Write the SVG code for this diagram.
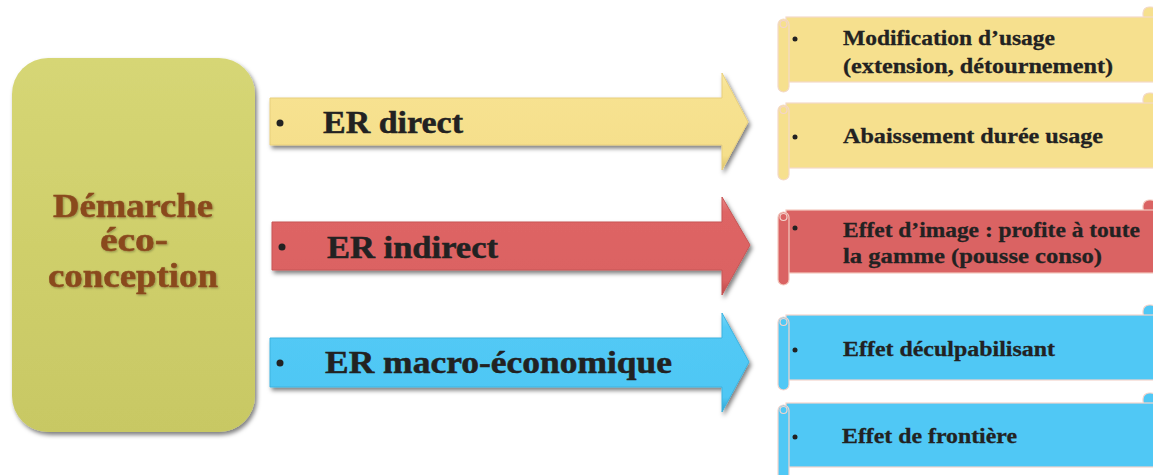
<svg xmlns="http://www.w3.org/2000/svg" width="1153" height="475" viewBox="0 0 1153 475">
<defs>
<filter id="sh" x="-10%" y="-10%" width="130%" height="130%">
<feDropShadow dx="2" dy="3" stdDeviation="2" flood-color="#000" flood-opacity="0.5"/>
</filter>
<filter id="tsh" x="-5%" y="-20%" width="110%" height="140%">
<feDropShadow dx="1" dy="1" stdDeviation="0.8" flood-color="#000" flood-opacity="0.3"/>
</filter>
<linearGradient id="gBox" x1="0" y1="0" x2="0" y2="1">
<stop offset="0" stop-color="#d6d675"/>
<stop offset="0.5" stop-color="#cfcf6b"/>
<stop offset="1" stop-color="#c8c864"/>
</linearGradient>
<linearGradient id="gY" x1="0" y1="0" x2="0" y2="1">
<stop offset="0" stop-color="#fbeaa6"/>
<stop offset="0.15" stop-color="#f7e291"/>
<stop offset="0.85" stop-color="#f5df8b"/>
<stop offset="1" stop-color="#d9bf68"/>
</linearGradient>
<linearGradient id="gR" x1="0" y1="0" x2="0" y2="1">
<stop offset="0" stop-color="#e98585"/>
<stop offset="0.15" stop-color="#de6565"/>
<stop offset="0.85" stop-color="#db6262"/>
<stop offset="1" stop-color="#b84747"/>
</linearGradient>
<linearGradient id="gB" x1="0" y1="0" x2="0" y2="1">
<stop offset="0" stop-color="#7ad7f8"/>
<stop offset="0.15" stop-color="#52c9f5"/>
<stop offset="0.85" stop-color="#4fc7f4"/>
<stop offset="1" stop-color="#2fa3cf"/>
</linearGradient>
<style>
.box{fill:url(#gBox);filter:url(#sh)}
.arr{stroke-width:1;filter:url(#sh)}
.ay{fill:url(#gY);stroke:#e8cf7c}
.ar{fill:url(#gR);stroke:#c75555}
.ab{fill:url(#gB);stroke:#3db3e0}
.main{font-family:"Liberation Serif","DejaVu Serif",serif;font-weight:bold;font-size:33px;fill:#8a4a1f;stroke:#8a4a1f;stroke-width:0.5;text-anchor:middle}
.at{font-family:"Liberation Serif","DejaVu Serif",serif;font-weight:bold;font-size:31px;fill:#222;stroke:#222;stroke-width:0.5}
.st{font-family:"Liberation Serif","DejaVu Serif",serif;font-weight:bold;font-size:22px;fill:#222;stroke:#222;stroke-width:0.3}
.dot{fill:#222}
.sy{fill:#f6e08e;stroke:#f3d9c8;stroke-width:1.2}
.sr{fill:#da6363;stroke:#f3c9bf;stroke-width:1.2}
.sb{fill:#50c8f5;stroke:#f3d4cc;stroke-width:1.2}
.curl{fill:none;stroke:#f3d4cc;stroke-width:1.2}
</style>
</defs>

<g id="demarche">
<rect class="box" x="12" y="58" width="243" height="374" rx="36" ry="36"/>
<g filter="url(#tsh)">
<text class="main" x="133" y="217" textLength="160" lengthAdjust="spacingAndGlyphs">Démarche</text>
<text class="main" x="134" y="251" textLength="68" lengthAdjust="spacingAndGlyphs">éco-</text>
<text class="main" x="133" y="287" textLength="170" lengthAdjust="spacingAndGlyphs">conception</text>
</g>
</g>

<g id="connectors">
<g id="er-direct">
<polygon class="arr ay" points="270,98 722,98 722,73 748,122 722,170 722,145 270,145"/>
<circle class="dot" cx="280" cy="123" r="3.5"/>
<text class="at" x="323" y="133" textLength="140" lengthAdjust="spacingAndGlyphs">ER direct</text>
</g>
<g id="er-indirect">
<polygon class="arr ar" points="272,222 722,222 722,197 750,245 722,295 722,270 272,270"/>
<circle class="dot" cx="282" cy="247" r="3.5"/>
<text class="at" x="327" y="258" textLength="171" lengthAdjust="spacingAndGlyphs">ER indirect</text>
</g>
<g id="er-macro">
<polygon class="arr ab" points="270,338 722,338 722,313 749,362 722,412 722,387 270,387"/>
<circle class="dot" cx="280" cy="363" r="3.5"/>
<text class="at" x="325" y="373" textLength="347" lengthAdjust="spacingAndGlyphs">ER macro-économique</text>
</g>
</g>

<g id="scroll-modification">
<rect class="sy" x="1143" y="7" width="14" height="14" rx="6"/>
<rect class="sy" x="786" y="17" width="380" height="65"/>
<rect class="sy" x="778" y="19" width="11" height="73" rx="5.5"/>
<circle class="curl" cx="783.5" cy="24" r="3.5"/>
<circle class="dot" cx="795" cy="39" r="2.5"/>
<text class="st" x="843" y="45" textLength="212" lengthAdjust="spacingAndGlyphs">Modification d’usage</text>
<text class="st" x="843" y="73" textLength="270" lengthAdjust="spacingAndGlyphs">(extension, détournement)</text>
</g>

<g id="scroll-abaissement">
<rect class="sy" x="1143" y="93" width="14" height="14" rx="6"/>
<rect class="sy" x="786" y="103" width="380" height="65"/>
<rect class="sy" x="778" y="105" width="11" height="75" rx="5.5"/>
<circle class="curl" cx="783.5" cy="110" r="3.5"/>
<circle class="dot" cx="795" cy="137" r="2.5"/>
<text class="st" x="843" y="143" textLength="260" lengthAdjust="spacingAndGlyphs">Abaissement durée usage</text>
</g>

<g id="scroll-image">
<rect class="sr" x="1143" y="200" width="14" height="14" rx="6"/>
<rect class="sr" x="786" y="210" width="380" height="63"/>
<rect class="sr" x="778" y="212" width="11" height="73" rx="5.5"/>
<circle class="curl" cx="783.5" cy="217" r="3.5"/>
<circle class="dot" cx="795" cy="228" r="2.5"/>
<text class="st" x="843" y="237" textLength="297" lengthAdjust="spacingAndGlyphs">Effet d’image : profite à toute</text>
<text class="st" x="843" y="263" textLength="259" lengthAdjust="spacingAndGlyphs">la gamme (pousse conso)</text>
</g>

<g id="scroll-deculpabilisant">
<rect class="sb" x="1143" y="305" width="14" height="14" rx="6"/>
<rect class="sb" x="786" y="315" width="380" height="65"/>
<rect class="sb" x="778" y="317" width="11" height="73" rx="5.5"/>
<circle class="curl" cx="783.5" cy="322" r="3.5"/>
<circle class="dot" cx="795" cy="350" r="2.5"/>
<text class="st" x="843" y="356" textLength="212" lengthAdjust="spacingAndGlyphs">Effet déculpabilisant</text>
</g>

<g id="scroll-frontiere">
<rect class="sb" x="1143" y="393" width="14" height="14" rx="6"/>
<rect class="sb" x="786" y="403" width="380" height="64"/>
<rect class="sb" x="778" y="405" width="11" height="75" rx="5.5"/>
<circle class="curl" cx="783.5" cy="410" r="3.5"/>
<circle class="dot" cx="795" cy="437" r="2.5"/>
<text class="st" x="842" y="443" textLength="175" lengthAdjust="spacingAndGlyphs">Effet de frontière</text>
</g>
</svg>
